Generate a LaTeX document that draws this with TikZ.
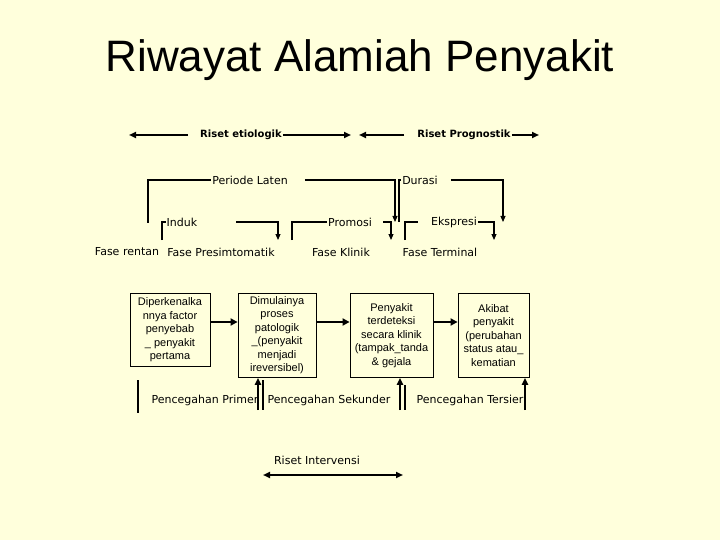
\documentclass[tikz,border=0pt]{standalone}
\usepackage{fontspec}
\setmainfont{Liberation Sans}
\newfontfamily\labelfont{DejaVu Sans}
\usetikzlibrary{arrows.meta,positioning,calc}
\definecolor{paper}{HTML}{FFFFDC}

\begin{document}
\begin{tikzpicture}[
  x=1pt,y=-1pt,
  lbl/.style={font=\labelfont\fontsize{11}{13}\selectfont,inner sep=1pt},
  rlbl/.style={font=\labelfont\bfseries\fontsize{10}{12}\selectfont,inner sep=1pt},
  box/.style={draw,line width=0.8pt,anchor=north,align=center,inner sep=2pt,font=\fontsize{11}{13.5}\selectfont},
  brk/.style={line width=1.1pt},
  brkarr/.style={line width=1.1pt,-{Triangle[length=6pt,width=5pt]}},
  rarr/.style={line width=2.2pt,-{Triangle[length=7pt,width=6pt]}},
  arr/.style={line width=2.6pt,-{Triangle[length=7pt,width=7pt]}},
  uarr/.style={line width=2pt,-{Triangle[length=7pt,width=6pt]}}
]
\fill[paper] (0,0) rectangle (720,540);
\node[font=\fontsize{44}{50}\selectfont] (title) at (360,60) {Riwayat Alamiah Penyakit};

% riset arrows
\node[rlbl] (etio) at (241,135) {Riset etiologik};
\node[rlbl] (prog) at (464,135) {Riset Prognostik};
\coordinate (etioL) at (129,135);
\coordinate (etioR) at (351,135);
\coordinate (progL) at (359,135);
\coordinate (progR) at (539,135);
\draw[rarr] ([xshift=-11pt]etio.west) -- (etioL);
\draw[rarr] (etio.east) -- (etioR);
\draw[rarr] ([xshift=-12pt]prog.west) -- (progL);
\draw[rarr] (prog.east) -- (progR);

% brackets
\node[lbl] (laten) at (250,180) {Periode Laten};
\node[lbl] (durasi) at (420,180) {Durasi};
\node[lbl] (induk) at (182,222) {Induk};
\node[lbl] (prom) at (350,222) {Promosi};
\node[lbl] (eks) at (454,222) {Ekspresi};
\coordinate (latenA) at (148,223);
\coordinate (latenB) at (395,222);
\coordinate (durasiA) at (399,222);
\coordinate (durasiB) at (503,222);
\coordinate (indukA) at (162,240);
\coordinate (indukB) at (278,240);
\coordinate (promA) at (292,240);
\coordinate (promB) at (391,240);
\coordinate (eksA) at (405,240);
\coordinate (eksB) at (494,240);
\foreach \n/\g/\h in {laten/0/16,durasi/0/12,induk/0/38,prom/0/10,eks/12/0} {
  \draw[brk] (\n A) |- ([xshift=-\g pt]\n.west);
  \draw[brkarr] ([xshift=\h pt]\n.east) -| (\n B);
}

% fase
\node[lbl] (rentan) at (127,252) {Fase rentan};
\node[lbl] (presim) at (221,252) {Fase Presimtomatik};
\node[lbl] (klinik) at (341,252) {Fase Klinik};
\node[lbl] (terminal) at (440,252) {Fase Terminal};

% boxes
\node[box,minimum width=80pt,minimum height=73pt] (b1) at (170,293) {Diperkenalka\\nnya factor\\penyebab\\\_ penyakit\\pertama};
\node[box,minimum width=78pt,minimum height=84pt] (b2) at (277,293) {Dimulainya\\proses\\patologik\\\_(penyakit\\menjadi\\ireversibel)};
\node[box,minimum width=83pt,minimum height=84pt] (b3) at (391.5,293) {Penyakit\\terdeteksi\\secara klinik\\(tampak\_tanda\\\& gejala};
\node[box,minimum width=71pt,minimum height=84pt] (b4) at (493.5,293) {Akibat\\penyakit\\(perubahan\\status atau\_\\kematian};
\coordinate (ay) at (0,322);
\foreach \u/\v in {b1/b2,b2/b3,b3/b4} {\draw[arr] (\u.east |- ay) -- (\v.west |- ay);}

% pencegahan
\node[lbl] (primer) at (205,400) {Pencegahan Primer};
\node[lbl] (sekunder) at (329,400) {Pencegahan Sekunder};
\node[lbl] (tersier) at (470,400) {Pencegahan Tersier};
\coordinate (pv1) at (138,380);
\coordinate (pv2) at (138,413);
\coordinate (primU) at (258,410);
\coordinate (primA) at (263,380);
\coordinate (primB) at (263,410);
\coordinate (sekU) at (400,410);
\coordinate (sekA) at (405,385);
\coordinate (sekB) at (405,410);
\coordinate (terU) at (525,410);
\draw[brk] (pv1) -- (pv2);
\draw[brk] (primA) -- (primB);
\draw[brk] (sekA) -- (sekB);
\draw[uarr] (primU) -- (primU |- b2.south);
\draw[uarr] (sekU) -- (sekU |- b3.south);
\draw[uarr] (terU) -- (terU |- b4.south);

% intervensi
\node[lbl] (interv) at (317,460) {Riset Intervensi};
\coordinate (intL) at (263,475);
\coordinate (intR) at (403,475);
\draw[rarr,{Triangle[length=7pt,width=6pt]}-{Triangle[length=7pt,width=6pt]}] (intL) -- (intR);
\end{tikzpicture}
\end{document}
